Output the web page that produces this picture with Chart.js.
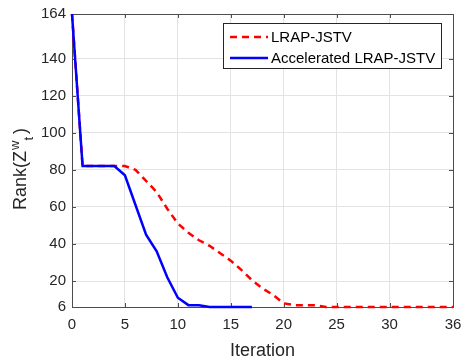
<!DOCTYPE html>
<html>
<head>
<meta charset="utf-8">
<script src="https://cdn.jsdelivr.net/npm/chart.js@4/dist/chart.umd.min.js"></script>
<style>
  html, body { margin: 0; padding: 0; background: #fff; }
</style>
</head>
<body>
<canvas id="rankChart" width="461" height="360"></canvas>
<script>
// iteration index and rank values
const lrapIter  = [0,1,2,3,4,5,6,7,8,9,10,11,12,13,14,15,16,17,18,19,20,21,22,23,24,25,26,27,28,29,30,31,32,33,34,35,36];
const lrapRank  = [164,82,82,82,82,82,80,74,68,59,51,46,42,39,35,31,26,20.5,16,12.5,8,7,7,7,6,6,6,6,6,6,6,6,6,6,6,6,6];
const accelIter = [0,1,2,3,4,5,6,7,8,9,10,11,12,13,14,15,16,17];
const accelRank = [164,82,82,82,82,77,61,45,36,22,11,7,7,6,6,6,6,6];

const xTicks = [0,5,10,15,20,25,30,36];
const yTicks = [6,20,40,60,80,100,120,140,164];

const FONT = "'Liberation Sans', Arial, Helvetica, sans-serif";
const AXIS_COLOR = '#4d4d4d';

const toPoints = (xs, ys) => xs.map((x, i) => ({ x: x, y: ys[i] }));

// MATLAB-style box, inward ticks, legend and axis titles
const matlabDecor = {
  id: 'matlabDecor',
  beforeDatasetsDraw(chart) {
    const { ctx, chartArea: a, scales: { x, y } } = chart;
    ctx.save();
    ctx.strokeStyle = AXIS_COLOR;
    ctx.lineWidth = 1;
    ctx.strokeRect(a.left + 0.5, a.top + 0.5, a.right - a.left, a.bottom - a.top);
    ctx.beginPath();
    xTicks.forEach(v => {
      const px = Math.round(x.getPixelForValue(v)) + 0.5;
      ctx.moveTo(px, a.bottom); ctx.lineTo(px, a.bottom - 4);
      ctx.moveTo(px, a.top); ctx.lineTo(px, a.top + 4);
    });
    yTicks.forEach(v => {
      const py = Math.round(y.getPixelForValue(v)) + 0.5;
      ctx.moveTo(a.left, py); ctx.lineTo(a.left + 4, py);
      ctx.moveTo(a.right, py); ctx.lineTo(a.right - 4, py);
    });
    ctx.stroke();
    ctx.restore();
  },
  afterDraw(chart) {
    const { ctx, chartArea: a } = chart;
    ctx.save();

    // legend
    const lx = 223, ly = 23, lw = 218, lh = 45;
    ctx.fillStyle = '#fff';
    ctx.fillRect(lx, ly, lw, lh);
    ctx.strokeStyle = '#262626';
    ctx.lineWidth = 1;
    ctx.strokeRect(lx + 0.5, ly + 0.5, lw, lh);
    const items = chart.data.datasets;
    items.forEach((ds, i) => {
      const yy = 37 + i * 21;
      ctx.beginPath();
      ctx.strokeStyle = ds.borderColor;
      ctx.lineWidth = ds.borderWidth;
      ctx.setLineDash(ds.borderDash || []);
      ctx.moveTo(230, yy);
      ctx.lineTo(268, yy);
      ctx.stroke();
      ctx.setLineDash([]);
      ctx.fillStyle = '#000';
      ctx.font = '15px ' + FONT;
      ctx.textBaseline = 'middle';
      ctx.textAlign = 'left';
      ctx.fillText(ds.label, 271, yy + 1);
    });

    // x title
    ctx.fillStyle = '#262626';
    ctx.font = '18px ' + FONT;
    ctx.textAlign = 'center';
    ctx.textBaseline = 'alphabetic';
    ctx.fillText('Iteration', (a.left + a.right) / 2, 356);

    // y title: Rank(Z^w_t)
    ctx.translate(26, 0);
    ctx.rotate(-Math.PI / 2);
    ctx.textAlign = 'left';
    ctx.font = '18px ' + FONT;
    const main = 'Rank(Z';
    const wMain = ctx.measureText(main).width;
    ctx.font = '13px ' + FONT;
    const wSup = ctx.measureText('w').width;
    const wSub = ctx.measureText('t').width;
    ctx.font = '18px ' + FONT;
    const wClose = ctx.measureText(')').width;
    const total = wMain + 1 + wSup + wSub + 3 + wClose;
    let tx = -169 - total / 2;
    ctx.fillText(main, tx, 0);
    tx += wMain + 1;
    ctx.font = '13px ' + FONT;
    ctx.fillText('w', tx, -7);
    ctx.fillText('t', tx + wSup, 7);
    tx += wSup + wSub + 3;
    ctx.font = '18px ' + FONT;
    ctx.fillText(')', tx, 0);

    ctx.restore();
  }
};

new Chart(document.getElementById('rankChart'), {
  type: 'line',
  data: {
    datasets: [
      {
        label: 'LRAP-JSTV',
        data: toPoints(lrapIter, lrapRank),
        borderColor: '#ff0000',
        borderWidth: 2.5,
        borderDash: [7, 5],
        pointRadius: 0,
        fill: false,
        tension: 0,
        clip: 5,
        order: 2
      },
      {
        label: 'Accelerated LRAP-JSTV',
        data: toPoints(accelIter, accelRank),
        borderColor: '#0000ff',
        borderWidth: 2.5,
        pointRadius: 0,
        fill: false,
        tension: 0,
        clip: 5,
        order: 1
      }
    ]
  },
  options: {
    responsive: false,
    animation: false,
    layout: { padding: { left: 0, right: 8, top: 14, bottom: 0 } },
    plugins: {
      legend: { display: false },
      tooltip: { enabled: false }
    },
    scales: {
      x: {
        type: 'linear',
        min: 0,
        max: 36,
        afterBuildTicks: s => { s.ticks = xTicks.map(v => ({ value: v })); },
        afterFit: s => { s.height = 53; s.paddingLeft = 0; s.paddingRight = 0; },
        grid: { color: '#e3e3e3', drawTicks: false },
        border: { display: false },
        ticks: {
          color: '#262626',
          padding: 9,
          maxRotation: 0,
          autoSkip: false,
          font: { family: FONT, size: 15 }
        }
      },
      y: {
        type: 'linear',
        min: 6,
        max: 164,
        afterBuildTicks: s => { s.ticks = yTicks.map(v => ({ value: v })); },
        afterFit: s => { s.width = 72; s.paddingTop = 0; s.paddingBottom = 0; },
        grid: { color: '#e3e3e3', drawTicks: false },
        border: { display: false },
        ticks: {
          color: '#262626',
          padding: 6,
          autoSkip: false,
          font: { family: FONT, size: 15 }
        }
      }
    }
  },
  plugins: [matlabDecor]
});
</script>
</body>
</html>
